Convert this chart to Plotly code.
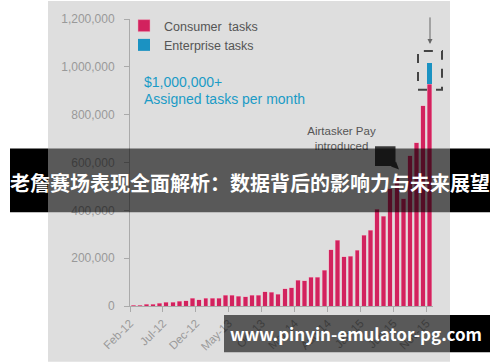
import plotly.graph_objects as go

# ---- data ----
tick_labels = ["Feb-12", "Jul-12", "Dec-12", "May-13", "Oct-13", "Mar-14",
               "Aug-14", "Jan-15", "Jun-15", "Nov-15"]
tick_month_index = [0, 5, 10, 15, 20, 25, 30, 35, 40, 45]

consumer_tasks = [3000, 3000, 8000, 8000, 12000, 15000, 15000, 19000, 21000, 33000,
                  26000, 33000, 33000, 33000, 46000, 46000, 40000, 38000, 46000, 46000,
                  60000, 57000, 50000, 72000, 76000, 108000, 105000, 120000, 120000, 149000,
                  236000, 275000, 206000, 209000, 233000, 296000, 317000, 404000, 375000, 490000,
                  540000, 448000, 629000, 683000, 838000, 928000]
enterprise_tasks = [0] * 45 + [90000]

n = len(consumer_tasks)
bar_x = [i + 0.5 for i in range(n)]

PINK = "#d2225e"
BLUE = "#1b92c2"
FONT = "Liberation Sans, Arial, sans-serif"

# plot area in pixels
L, R, T, B = 130, 433, 18, 306
W, H = 500, 362
def px(x):
    return (x - L) / (R - L)
def py(y):
    return (B - y) / (B - T)

fig = go.Figure()
fig.add_trace(go.Bar(x=bar_x, y=consumer_tasks, name="Consumer  tasks",
                     marker=dict(color=PINK, line=dict(width=0.6, color="rgba(240,170,190,0.8)"))))
fig.add_trace(go.Bar(x=bar_x, y=enterprise_tasks, name="Enterprise tasks",
                     marker=dict(color=BLUE, line=dict(width=0))))

# "Airtasker Pay introduced" label (kept as a trace so the banner covers it)
fig.add_trace(go.Scatter(x=[(341.5 - L) / (R - L) * n], y=[(B - 139) / (B - T) * 1200000],
                         mode="text", text=["Airtasker Pay<br>introduced"],
                         textfont=dict(family=FONT, size=11.5, color="#555555"),
                         showlegend=False, hoverinfo="skip", cliponaxis=False))

shapes = []
# card background
shapes.append(dict(type="rect", xref="paper", yref="paper", x0=px(48), x1=px(450),
                   y0=py(362), y1=py(0), fillcolor="#dedede", line=dict(width=0), layer="below"))
# callout box with arrow
shapes.append(dict(type="rect", xref="paper", yref="paper", x0=px(375), x1=px(395.5),
                   y0=py(165.5), y1=py(145.7), fillcolor="#383838", line=dict(width=0), layer="above"))
shapes.append(dict(type="path", xref="paper", yref="paper",
                   path=f"M{px(391)},{py(166)} L{px(396)},{py(161)} L{px(399)},{py(169)} Z",
                   fillcolor="#383838", line=dict(width=0), layer="above"))
# dashed highlight box
shapes.append(dict(type="rect", xref="paper", yref="paper", x0=px(418), x1=px(442),
                   y0=py(89), y1=py(50), line=dict(color="#444444", width=2, dash="dash"),
                   fillcolor="rgba(0,0,0,0)", layer="above"))
# top banner
shapes.append(dict(type="rect", xref="paper", yref="paper", x0=px(10), x1=px(48),
                   y0=py(212), y1=py(148), fillcolor="black", line=dict(width=0), layer="above"))
shapes.append(dict(type="rect", xref="paper", yref="paper", x0=px(450), x1=px(490),
                   y0=py(212), y1=py(148), fillcolor="black", line=dict(width=0), layer="above"))
shapes.append(dict(type="rect", xref="paper", yref="paper", x0=px(48), x1=px(450),
                   y0=py(212), y1=py(148), fillcolor="rgba(0,0,0,0.6)", line=dict(width=0), layer="above"))
# bottom banner
shapes.append(dict(type="rect", xref="paper", yref="paper", x0=px(224), x1=px(450),
                   y0=py(352.5), y1=py(315), fillcolor="rgba(0,0,0,0.6)", line=dict(width=0), layer="above"))
shapes.append(dict(type="rect", xref="paper", yref="paper", x0=px(450), x1=px(490),
                   y0=py(352.5), y1=py(315), fillcolor="black", line=dict(width=0), layer="above"))

annotations = [
    dict(xref="paper", yref="paper", x=px(142), y=py(81), xanchor="left", yanchor="middle",
         text="$1,000,000+", showarrow=False, font=dict(family=FONT, size=14, color="#1a9bc6")),
    dict(xref="paper", yref="paper", x=px(142), y=py(98), xanchor="left", yanchor="middle",
         text="Assigned tasks per month", showarrow=False,
         font=dict(family=FONT, size=14, color="#1a9bc6")),
    dict(xref="paper", yref="paper", x=px(430), y=py(43), ax=0, ay=-28, showarrow=True,
         arrowhead=2, arrowsize=1, arrowwidth=1, arrowcolor="#666666", text=""),
    dict(xref="paper", yref="paper", x=px(250), y=py(182), xanchor="center", yanchor="middle",
         text="<b>老詹赛场表现全面解析：数据背后的影响力与未来展望</b>", showarrow=False,
         font=dict(family="Noto Sans CJK SC", size=20, color="white")),
    dict(xref="paper", yref="paper", x=px(356), y=py(334), xanchor="center", yanchor="middle",
         text="<b>www.pinyin-emulator-pg.com</b>", showarrow=False,
         font=dict(family="Noto Sans CJK SC", size=17, color="white")),
]

fig.update_layout(
    width=W, height=H, autosize=False,
    margin=dict(l=L, r=W - R, t=T, b=H - B, pad=0),
    paper_bgcolor="white", plot_bgcolor="rgba(0,0,0,0)",
    barmode="stack", bargap=0.32,
    font=dict(family=FONT, color="#999999"),
    shapes=shapes, annotations=annotations,
    legend=dict(x=px(124), y=py(11), xanchor="left", yanchor="top", traceorder="normal",
                bgcolor="rgba(0,0,0,0)", font=dict(family=FONT, size=12.5, color="#555555"),
                itemclick=False),
    xaxis=dict(range=[0, n], tickmode="array", tickvals=tick_month_index, ticktext=tick_labels,
               tickangle=-45, showline=True, linecolor="#aaaaaa", linewidth=1,
               ticks="outside", ticklen=5, tickcolor="#aaaaaa", showgrid=False, zeroline=False,
               automargin=False, tickfont=dict(size=11.5, color="#999999")),
    yaxis=dict(range=[0, 1200000], tickvals=[0, 200000, 400000, 600000, 800000, 1000000, 1200000],
               tickformat=",", showline=True, linecolor="#aaaaaa", linewidth=1,
               ticks="outside", ticklen=5, tickcolor="#aaaaaa", showgrid=False, zeroline=False,
               automargin=False, tickfont=dict(size=12, color="#999999"), ticklabelstandoff=7),
)

fig.write_html("out.html", config={"displayModeBar": False},
               post_script="document.body.style.margin='0';document.body.style.overflow='hidden';")
